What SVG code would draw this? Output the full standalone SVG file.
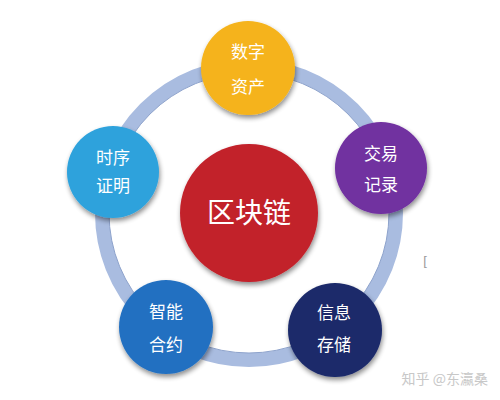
<svg xmlns="http://www.w3.org/2000/svg" width="500" height="400" viewBox="0 0 500 400">
  <defs>
    <filter id="sh" x="-30%" y="-30%" width="160%" height="160%">
      <feGaussianBlur in="SourceAlpha" stdDeviation="2.5"/>
      <feOffset dx="1" dy="3" result="b"/>
      <feComponentTransfer><feFuncA type="linear" slope="0.45"/></feComponentTransfer>
      <feMerge><feMergeNode/><feMergeNode in="SourceGraphic"/></feMerge>
    </filter>
    <style>
      .node text { font-family: "Noto Sans CJK SC", sans-serif; font-size: 17px; fill: #ffffff; text-anchor: middle; }
      .node circle { filter: url(#sh); }
      .ring { fill: none; stroke: #a9bce0; stroke-width: 14; }
      .ringEdge { fill: none; stroke: #8ea3cc; stroke-width: 1; }
    </style>
  </defs>
  <rect width="500" height="400" fill="#ffffff"/>
  <g id="connectors">
    <circle class="ring" cx="249" cy="213" r="147"/>
    <circle class="ringEdge" cx="249" cy="213" r="140"/>
  </g>
  <g id="center" class="node">
    <circle cx="249" cy="213" r="69" fill="#c2202b"/>
    <text x="249" y="223" style="font-size:28px">区块链</text>
  </g>
  <g id="n-digital" class="node">
    <circle cx="248" cy="68" r="47" fill="#f5b31a"/>
    <text x="248" y="58">数字</text>
    <text x="248" y="93">资产</text>
  </g>
  <g id="n-trade" class="node">
    <circle cx="381" cy="168" r="46" fill="#7130a0"/>
    <text x="381" y="160">交易</text>
    <text x="381" y="191">记录</text>
  </g>
  <g id="n-time" class="node">
    <circle cx="113" cy="172" r="46" fill="#2ea2dc"/>
    <text x="113" y="164">时序</text>
    <text x="113" y="192">证明</text>
  </g>
  <g id="n-contract" class="node">
    <circle cx="166" cy="327" r="47" fill="#2370c1"/>
    <text x="166" y="318">智能</text>
    <text x="166" y="351">合约</text>
  </g>
  <g id="n-storage" class="node">
    <circle cx="335" cy="330" r="47" fill="#1b2a6a"/>
    <text x="334" y="319">信息</text>
    <text x="334" y="351">存储</text>
  </g>
  <text x="425" y="265" font-family="Liberation Sans, sans-serif" font-size="13" fill="#9a9a9a" text-anchor="middle">[</text>
  <text x="488" y="384" font-family="Noto Sans CJK SC, sans-serif" font-size="14" fill="#c8c8c8" text-anchor="end">知乎 @东瀛桑</text>
</svg>
